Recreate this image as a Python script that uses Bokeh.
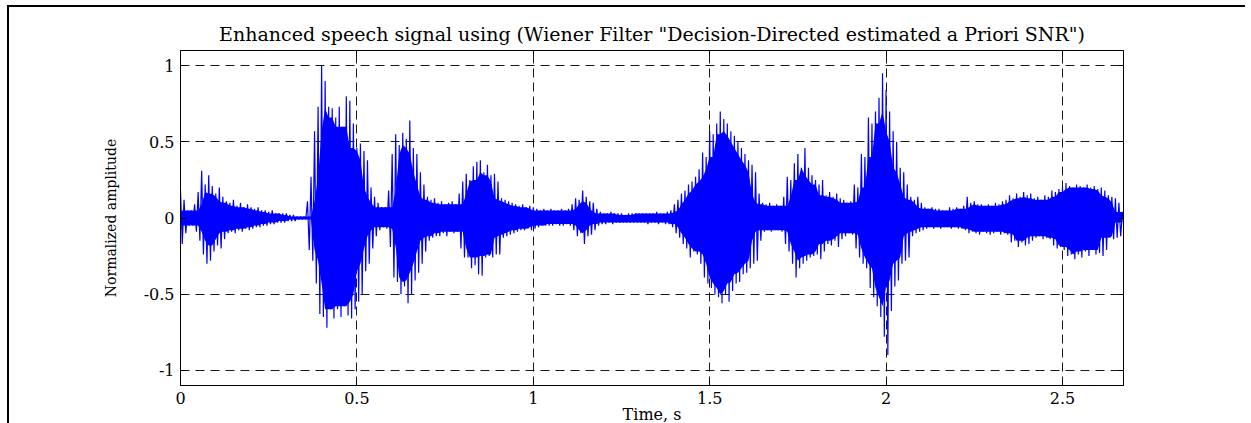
from bokeh.plotting import figure
from bokeh.models import Range1d, LinearAxis, FixedTicker, ColumnDataSource
from bokeh.embed import file_html
from bokeh.resources import INLINE

# ---------------- data ----------------
title_text = 'Enhanced speech signal using (Wiener Filter "Decision-Directed estimated a Priori SNR")'
x_label = "Time, s"
y_label = "Normalized amplitude"

t_start = 0.0      # s
t_step = 0.01      # s, spacing of the envelope readings

# upper envelope of the waveform, one value every 10 ms from 0.00 s to 2.67 s
upper = [
    0.18, 0.12, 0.05, 0.05, 0.09, 0.17, 0.31, 0.22, 0.28, 0.21,
    0.16, 0.20, 0.14, 0.11, 0.10, 0.12, 0.08, 0.10, 0.07, 0.09,
    0.07, 0.06, 0.07, 0.05, 0.05, 0.04, 0.05, 0.03, 0.03, 0.03,
    0.03, 0.02, 0.02, 0.01, 0.01, 0.01, 0.11, 0.27, 0.57, 0.73,
    1.00, 0.90, 0.73, 0.72, 0.66, 0.73, 0.60, 0.80, 0.77, 0.62,
    0.46, 0.49, 0.44, 0.38, 0.20, 0.14, 0.10, 0.07, 0.07, 0.18,
    0.42, 0.55, 0.48, 0.56, 0.52, 0.64, 0.46, 0.42, 0.30, 0.22,
    0.14, 0.12, 0.13, 0.10, 0.11, 0.09, 0.10, 0.11, 0.09, 0.16,
    0.24, 0.29, 0.25, 0.34, 0.37, 0.38, 0.30, 0.35, 0.28, 0.29,
    0.24, 0.13, 0.12, 0.11, 0.10, 0.09, 0.08, 0.09, 0.07, 0.08,
    0.07, 0.06, 0.05, 0.06, 0.05, 0.06, 0.05, 0.05, 0.06, 0.05,
    0.06, 0.09, 0.13, 0.12, 0.18, 0.14, 0.11, 0.10, 0.06, 0.04,
    0.03, 0.03, 0.04, 0.03, 0.03, 0.03, 0.02, 0.03, 0.03, 0.03,
    0.03, 0.03, 0.03, 0.03, 0.03, 0.04, 0.03, 0.03, 0.04, 0.05,
    0.09, 0.12, 0.16, 0.18, 0.22, 0.24, 0.27, 0.32, 0.43, 0.40,
    0.57, 0.55, 0.62, 0.70, 0.65, 0.62, 0.57, 0.54, 0.50, 0.46,
    0.42, 0.38, 0.35, 0.30, 0.16, 0.10, 0.09, 0.10, 0.08, 0.09,
    0.08, 0.14, 0.27, 0.25, 0.36, 0.42, 0.33, 0.46, 0.33, 0.28,
    0.25, 0.22, 0.25, 0.15, 0.17, 0.14, 0.16, 0.13, 0.12, 0.10,
    0.11, 0.22, 0.20, 0.42, 0.40, 0.66, 0.62, 0.70, 0.79, 0.95,
    0.84, 0.70, 0.57, 0.50, 0.33, 0.30, 0.22, 0.14, 0.12, 0.14,
    0.10, 0.07, 0.06, 0.07, 0.06, 0.06, 0.05, 0.05, 0.07, 0.06,
    0.07, 0.06, 0.08, 0.14, 0.10, 0.11, 0.09, 0.09, 0.08, 0.09,
    0.08, 0.10, 0.09, 0.11, 0.12, 0.15, 0.13, 0.16, 0.14, 0.17,
    0.15, 0.16, 0.13, 0.14, 0.12, 0.15, 0.14, 0.18, 0.17, 0.19,
    0.20, 0.23, 0.21, 0.20, 0.22, 0.21, 0.20, 0.22, 0.20, 0.21,
    0.19, 0.20, 0.18, 0.15, 0.14, 0.13, 0.10, 0.04,
]

# lower envelope of the waveform, same instants
lower = [
    -0.17, -0.10, -0.05, -0.05, -0.09, -0.15, -0.24, -0.30, -0.28, -0.22,
    -0.18, -0.20, -0.14, -0.10, -0.09, -0.10, -0.08, -0.09, -0.07, -0.08,
    -0.07, -0.06, -0.06, -0.05, -0.05, -0.04, -0.04, -0.03, -0.03, -0.03,
    -0.02, -0.02, -0.02, -0.01, -0.01, -0.01, -0.21, -0.28, -0.43, -0.63,
    -0.65, -0.72, -0.60, -0.66, -0.60, -0.65, -0.58, -0.64, -0.66, -0.60,
    -0.55, -0.50, -0.35, -0.30, -0.20, -0.12, -0.08, -0.06, -0.07, -0.19,
    -0.39, -0.42, -0.50, -0.45, -0.56, -0.50, -0.41, -0.36, -0.30, -0.22,
    -0.15, -0.13, -0.12, -0.12, -0.10, -0.12, -0.09, -0.10, -0.09, -0.20,
    -0.26, -0.26, -0.33, -0.31, -0.37, -0.38, -0.26, -0.25, -0.26, -0.24,
    -0.24, -0.13, -0.12, -0.11, -0.10, -0.09, -0.08, -0.08, -0.07, -0.08,
    -0.07, -0.06, -0.05, -0.05, -0.05, -0.05, -0.04, -0.05, -0.05, -0.04,
    -0.05, -0.08, -0.12, -0.10, -0.17, -0.12, -0.11, -0.08, -0.05, -0.04,
    -0.04, -0.03, -0.04, -0.03, -0.03, -0.03, -0.03, -0.03, -0.03, -0.03,
    -0.03, -0.03, -0.04, -0.03, -0.03, -0.04, -0.03, -0.04, -0.04, -0.06,
    -0.10, -0.13, -0.17, -0.20, -0.26, -0.22, -0.24, -0.30, -0.39, -0.43,
    -0.46, -0.50, -0.52, -0.56, -0.50, -0.55, -0.48, -0.43, -0.42, -0.37,
    -0.36, -0.33, -0.30, -0.28, -0.15, -0.09, -0.08, -0.09, -0.08, -0.08,
    -0.09, -0.17, -0.22, -0.30, -0.39, -0.33, -0.30, -0.28, -0.26, -0.25,
    -0.24, -0.27, -0.22, -0.17, -0.18, -0.15, -0.19, -0.14, -0.12, -0.10,
    -0.11, -0.20, -0.26, -0.30, -0.33, -0.46, -0.52, -0.58, -0.65, -0.78,
    -0.90, -0.61, -0.45, -0.41, -0.30, -0.28, -0.26, -0.12, -0.10, -0.09,
    -0.08, -0.07, -0.06, -0.07, -0.06, -0.07, -0.06, -0.06, -0.07, -0.06,
    -0.07, -0.07, -0.08, -0.10, -0.09, -0.10, -0.11, -0.09, -0.10, -0.11,
    -0.10, -0.09, -0.11, -0.10, -0.11, -0.16, -0.15, -0.19, -0.16, -0.18,
    -0.17, -0.15, -0.13, -0.12, -0.14, -0.13, -0.14, -0.18, -0.20, -0.19,
    -0.21, -0.25, -0.24, -0.27, -0.24, -0.26, -0.22, -0.25, -0.21, -0.24,
    -0.23, -0.25, -0.21, -0.13, -0.14, -0.13, -0.12, -0.03,
]

x_ticks = [0, 0.5, 1, 1.5, 2, 2.5]
x_tick_labels = ["0", "0.5", "1", "1.5", "2", "2.5"]
y_ticks = [-1, -0.5, 0, 0.5, 1]
y_tick_labels = ["-1", "-0.5", "0", "0.5", "1"]

x_min, x_max = 0.0, 2.673
y_min, y_max = -1.1, 1.1

# ---------------- build the trace ----------------
n = len(upper)
times = [t_start + i * t_step for i in range(n)]
# dense core: the smallest nearby envelope reading (spikes stick out beyond it)
core_hi = [min(upper[max(i - 2, 0):i + 3]) for i in range(n)]
core_lo = [max(lower[max(i - 2, 0):i + 3]) for i in range(n)]
wave_x, wave_y = [], []
for t, hi, lo in zip(times, upper, lower):
    wave_x += [t, t + t_step / 2]
    wave_y += [hi, lo]
src = ColumnDataSource(data=dict(x=wave_x, y=wave_y))
core = ColumnDataSource(data=dict(t=times, lo=core_lo, hi=core_hi))

SERIF = "DejaVu Serif"
BLUE = "#0000ff"

p = figure(
    frame_width=943, frame_height=335,
    min_border_left=171, min_border_right=122,
    min_border_top=43, min_border_bottom=37,
    x_range=Range1d(x_min, x_max), y_range=Range1d(y_min, y_max),
    output_backend="svg", toolbar_location=None,
    x_axis_location=None, y_axis_location=None,
    title=title_text,
)
p.styles = {"border-top": "2px solid black", "border-left": "2px solid black",
            "margin-top": "5px", "margin-left": "7px"}
p.background_fill_color = "white"
p.border_fill_color = "white"
p.outline_line_color = "black"
p.outline_line_width = 1

p.title.align = "center"
p.title.text_font = SERIF
p.title.text_font_size = "19px"
p.title.text_font_style = "normal"
p.title.text_color = "black"
p.title.standoff = 11

def make_axis(ticks, labels, show_labels):
    ax = LinearAxis(ticker=FixedTicker(ticks=ticks))
    ax.major_label_overrides = {t: l for t, l in zip(ticks, labels)}
    ax.major_tick_in = 5
    ax.major_tick_out = 0
    ax.minor_tick_in = 0
    ax.minor_tick_out = 0
    ax.axis_line_color = "black"
    ax.major_tick_line_color = "black"
    ax.major_label_text_font = SERIF
    ax.major_label_text_font_size = "16px" if show_labels else "0px"
    ax.major_label_text_color = "black"
    ax.axis_label_text_font = SERIF
    ax.axis_label_text_font_style = "normal"
    ax.axis_label_text_color = "black"
    if not show_labels:
        ax.major_label_text_alpha = 0
        ax.major_label_standoff = 0
    return ax

xb = make_axis(x_ticks, x_tick_labels, True)
xb.major_label_standoff = 6
xb.axis_label = x_label
xb.axis_label_text_font_size = "16px"
xb.axis_label_standoff = -2
yl = make_axis(y_ticks, y_tick_labels, True)
yl.major_label_standoff = 6
yl.axis_label = y_label
yl.axis_label_text_font_size = "14px"
yl.axis_label_standoff = 22
xt = make_axis(x_ticks, x_tick_labels, False)
yr = make_axis(y_ticks, y_tick_labels, False)
p.add_layout(xb, "below")
p.add_layout(yl, "left")
p.add_layout(xt, "above")
p.add_layout(yr, "right")

p.xgrid.ticker = FixedTicker(ticks=x_ticks)
p.ygrid.ticker = FixedTicker(ticks=y_ticks)
for g, dash in ((p.xgrid, "9 5"), (p.ygrid, "9 6")):
    g.grid_line_color = "black"
    g.grid_line_width = 1
    g.grid_line_dash = dash
    g.grid_line_alpha = 0.9

p.varea(x="t", y1="lo", y2="hi", source=core, fill_color=BLUE, fill_alpha=1.0)
p.line("x", "y", source=src, line_color=BLUE, line_width=1.2)

open("out.html", "w").write(file_html(p, INLINE))
